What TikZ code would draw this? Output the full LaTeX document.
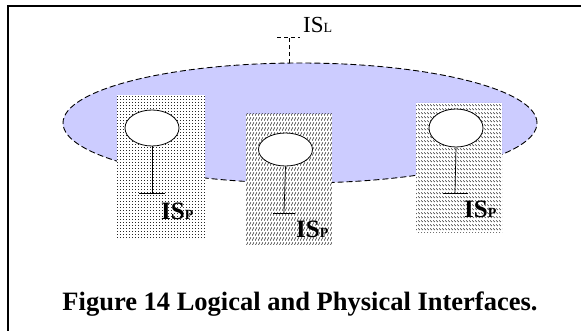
\documentclass[tikz,border=0pt]{standalone}
\usepackage{fontspec}
\setmainfont{Liberation Serif}
\usetikzlibrary{shapes.geometric,patterns,positioning}
\definecolor{logiclilac}{RGB}{204,204,255}
\definecolor{hatchgray}{RGB}{40,40,40}

% fill patterns of the three physical interfaces
\pgfdeclarepatternformonly{finedots}{\pgfqpoint{0pt}{0pt}}{\pgfqpoint{1pt}{1pt}}{\pgfqpoint{3pt}{3pt}}{%
  \pgfpathrectangle{\pgfqpoint{0pt}{0pt}}{\pgfqpoint{0.6pt}{0.6pt}}\pgfusepath{fill}}
\pgfdeclarepatternformonly{slashrows}{\pgfqpoint{0pt}{0pt}}{\pgfqpoint{3pt}{4.5pt}}{\pgfqpoint{3pt}{4.5pt}}{%
  \pgfsetlinewidth{0.7pt}%
  \pgfpathmoveto{\pgfqpoint{0.3pt}{0.4pt}}\pgfpathlineto{\pgfqpoint{2.4pt}{4pt}}\pgfusepath{stroke}}
\pgfdeclarepatternformonly{backrows}{\pgfqpoint{0pt}{0pt}}{\pgfqpoint{2.5pt}{4pt}}{\pgfqpoint{2.5pt}{4pt}}{%
  \pgfsetlinewidth{0.6pt}%
  \pgfpathmoveto{\pgfqpoint{0.2pt}{3.2pt}}\pgfpathlineto{\pgfqpoint{2.2pt}{1.2pt}}\pgfusepath{stroke}}

\newcommand{\istag}[3]{\fontsize{#1}{#1}\selectfont IS\fontsize{#2}{#2}\selectfont #3}

\begin{document}
\begin{tikzpicture}[x=1pt,y=-1pt,
    physbox/.style={fill=white,postaction={pattern=#1,pattern color=hatchgray}},
    port/.style={draw,ellipse,fill=white,line width=0.8pt,inner sep=0pt,minimum width=54,minimum height=36},
    stem/.style={line width=0.7pt},
    tag/.style={anchor=base west,inner sep=0pt}]
    \useasboundingbox (0,0) rectangle (581,331);
    \draw[line width=2pt] (8,331) -- (8,6) -- (581,6);
    % logical interface
    \node[draw,ellipse,fill=logiclilac,line width=0.9pt,dash pattern=on 6pt off 3pt,
          minimum width=474,minimum height=120] (logic) at (300,123) {};
    \coordinate (lbar) at (289,37);
    \draw[stem,dash pattern=on 4pt off 3pt] ([xshift=-11pt]logic.north) -- (lbar);
    \draw[stem,dash pattern=on 4pt off 3pt] ([xshift=-12pt]lbar) -- ([xshift=11pt]lbar);
    \node[tag] (lname) at (303,33) {\istag{23}{14}{L}};
    % physical interfaces
    \path[physbox=finedots] (117,95) rectangle (205,238);
    \path[physbox=slashrows] (246,114) rectangle (332,245);
    \path[physbox=backrows] (416,103) rectangle (502,233);
    \node[port] (p1) at (152,128) {};
    \node[port,minimum height=33] (p2) at (285.5,149.5) {};
    \node[port,minimum height=38] (p3) at (456,128) {};
    \coordinate (b1) at (152,193);
    \coordinate (b2) at (284,213);
    \coordinate (b3) at (455,193);
    \draw[stem] (p1.south) -- (b1);
    \draw[stem] (p2.south) -- (b2);
    \draw[stem] (p3.south) -- (b3);
    \draw[stem] ([xshift=-13pt]b1) -- ([xshift=13pt]b1);
    \draw[stem] ([xshift=-11pt]b2) -- ([xshift=11pt]b2);
    \draw[stem] ([xshift=-12pt]b3) -- ([xshift=13pt]b3);
    \node[tag,font=\bfseries] (pname1) at (161,220) {\istag{25}{14}{P}};
    \node[tag,font=\bfseries] (pname2) at (296,238) {\istag{25}{14}{P}};
    \node[tag,font=\bfseries] (pname3) at (464,218) {\istag{25}{14}{P}};
    % caption
    \node[anchor=base,inner sep=0pt,font=\bfseries\fontsize{26.5}{26.5}\selectfont] (caption) at (300,310)
        {Figure 14 Logical and Physical Interfaces.};
\end{tikzpicture}
\end{document}
